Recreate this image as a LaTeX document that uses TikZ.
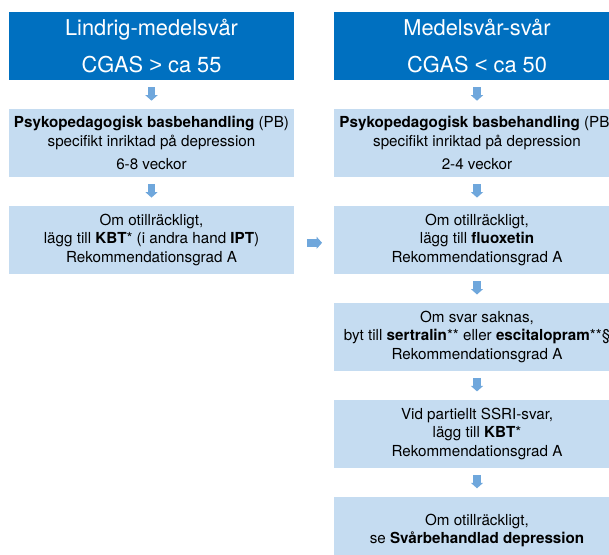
\documentclass[tikz,border=0pt]{standalone}
\usepackage{fontspec}
\setmainfont{TeX Gyre Heros}
\newfontfamily\tecken{Liberation Sans}
\usetikzlibrary{positioning,arrows.meta}
\definecolor{rubrikbla}{RGB}{0,112,192}
\definecolor{rutbla}{RGB}{197,220,241}
\definecolor{pilbla}{RGB}{111,167,220}
\tikzset{
  rubrik/.style={fill=rubrikbla,text=white,minimum width=285.5pt,minimum height=68pt,
    inner sep=0pt,align=center,font=\fontsize{21.8}{24}\selectfont},
  ruta/.style={fill=rutbla,minimum width=285.5pt,minimum height=68pt,
    inner sep=0pt,align=center,font=\fontsize{15.2}{18.5}\selectfont},
  pil/.style={draw=pilbla,line width=7.5pt,-{Triangle[width=12pt,length=5.5pt]},
    shorten <=7pt,shorten >=8pt}
}
\begin{document}
\begin{tikzpicture}[node distance=28.5pt]
\useasboundingbox (0,0) rectangle (609pt,-554pt);
\clip (0,0) rectangle (609pt,-554pt);
% Vänster kolumn
\node[rubrik] (lhuvud) at (151.5pt,-46pt) {Lindrig-medelsvår\\[13pt]CGAS {\tecken >} ca 55};
\node[ruta,below=of lhuvud] (lsteg1) {\textbf{Psykopedagogisk basbehandling} (PB)\\specifikt inriktad på depression\\[4.5pt]6-8 veckor};
\node[ruta,below=of lsteg1] (lsteg2) {Om otillräckligt,\\lägg till \textbf{KBT}* (i andra hand \textbf{IPT})\\Rekommendationsgrad A};
% Höger kolumn
\node[rubrik] (rhuvud) at (477pt,-46pt) {Medelsvår-svår\\[13pt]CGAS {\tecken <} ca 50};
\node[ruta,below=of rhuvud] (rsteg1) {\textbf{Psykopedagogisk basbehandling} (PB)\\specifikt inriktad på depression\\[4.5pt]2-4 veckor};
\node[ruta,below=of rsteg1] (rsteg2) {Om otillräckligt,\\lägg till \textbf{fluoxetin}\\Rekommendationsgrad A};
\node[ruta,below=of rsteg2] (rsteg3) {Om svar saknas,\\byt till \textbf{sertralin}** eller \textbf{escitalopram}**§\\Rekommendationsgrad A};
\node[ruta,below=of rsteg3] (rsteg4) {Vid partiellt SSRI-svar,\\lägg till \textbf{KBT}*\\Rekommendationsgrad A};
\node[ruta,below=of rsteg4] (rsteg5) {Om otillräckligt,\\se \textbf{Svårbehandlad depression}};
% Pilar
\draw[pil] (lhuvud) -- (lsteg1);
\draw[pil] (lsteg1) -- (lsteg2);
\draw[pil] (rhuvud) -- (rsteg1);
\draw[pil] (rsteg1) -- (rsteg2);
\draw[pil] (rsteg2) -- (rsteg3);
\draw[pil] (rsteg3) -- (rsteg4);
\draw[pil] (rsteg4) -- (rsteg5);
\draw[pil,shorten <=12.5pt,shorten >=12pt] ([yshift=-3pt]lsteg2.east) -- ([yshift=-3pt]rsteg2.west);
\end{tikzpicture}
\end{document}
